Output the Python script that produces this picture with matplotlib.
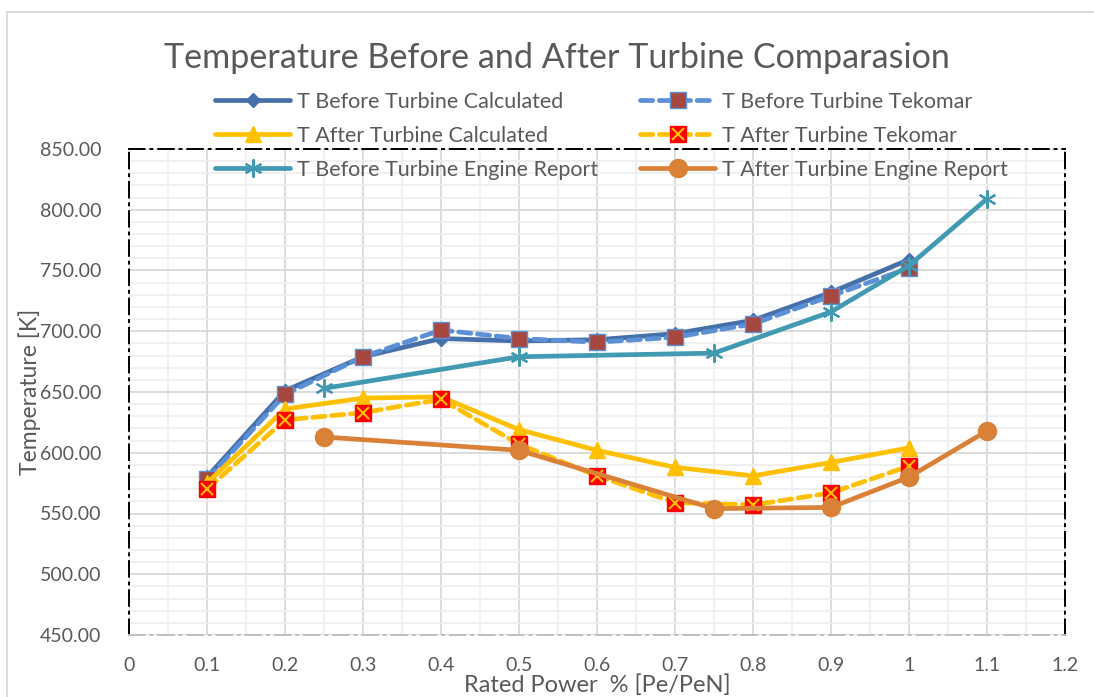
import matplotlib
matplotlib.use("Agg")
import matplotlib.pyplot as plt
from matplotlib.ticker import MultipleLocator, FormatStrFormatter
from matplotlib.lines import Line2D
from matplotlib.legend_handler import HandlerTuple

plt.rcParams['font.family'] = ['Lato', 'DejaVu Sans']

# ---- data ----
power = [0.1, 0.2, 0.3, 0.4, 0.5, 0.6, 0.7, 0.8, 0.9, 1.0]
t_before_calc = [580, 651, 679, 694, 692, 693, 698, 709, 732, 759]
t_before_tek = [578, 648, 679, 701, 694, 691, 695, 706, 729, 752]
t_after_calc = [575, 636, 645, 646, 619, 602, 588, 581, 592, 604]
t_after_tek = [570, 627, 633, 644, 607, 581, 559, 557, 567, 589]
report_power = [0.25, 0.5, 0.75, 0.9, 1.0, 1.1]
t_before_report = [653, 679, 682, 716, 754, 809]
t_after_report = [613, 602, 554, 555, 580, 618]

labels = ["T Before Turbine Calculated", "T Before Turbine Tekomar",
          "T After Turbine Calculated", "T After Turbine Tekomar",
          "T Before Turbine Engine Report", "T After Turbine Engine Report"]
title = "Temperature Before and After Turbine Comparasion"
xlabel = "Rated Power  % [Pe/PeN]"
ylabel = "Temperature [K]"

W, H = 1094, 697
fig = plt.figure(figsize=(W / 100, H / 100), dpi=100)

def fx(px):
    return px / W

def fy(py):
    return 1 - py / H

ax = fig.add_axes([fx(129), fy(635), fx(1065) - fx(129), fy(149) - fy(635)])

c_bcalc = '#4670AA'
c_btek = '#5B8FD6'
c_acalc = '#FFC000'
c_report_b = '#4299B2'
c_report_a = '#DA8138'
lw = 3.4

l1, = ax.plot(power, t_before_calc, color=c_bcalc, lw=lw, marker='D', ms=7,
              mfc=c_bcalc, mec=c_bcalc, solid_capstyle='round', zorder=3)
l2, = ax.plot(power, t_before_tek, color=c_btek, lw=lw, ls=(0, (2.6, 1.4)),
              dash_capstyle='round', marker='s', ms=12, mfc='#A64740',
              mec=c_btek, mew=1.0, zorder=4)
l3, = ax.plot(power, t_after_calc, color=c_acalc, lw=lw, marker='^', ms=11,
              mfc=c_acalc, mec=c_acalc, solid_capstyle='round', zorder=5)
l4, = ax.plot(power, t_after_tek, color=c_acalc, lw=lw, ls=(0, (2.6, 1.4)),
              dash_capstyle='round', marker='s', ms=12, mfc='#FF0000',
              mec='#FF0000', mew=1.0, zorder=6)
l4x, = ax.plot(power, t_after_tek, ls='none', marker='x', ms=9, mec=c_acalc,
               mew=1.5, zorder=6.5)
l5, = ax.plot(report_power, t_before_report, color=c_report_b, lw=lw,
              marker=(6, 2, 0), ms=13, mec=c_report_b, mew=1.6,
              solid_capstyle='round', zorder=7)
l6, = ax.plot(report_power, t_after_report, color=c_report_a, lw=lw,
              marker='o', ms=13, mfc=c_report_a, mec=c_report_a,
              solid_capstyle='round', zorder=8)

ax.set_xlim(0, 1.2)
ax.set_ylim(450, 850)
ax.xaxis.set_major_locator(MultipleLocator(0.1))
ax.xaxis.set_minor_locator(MultipleLocator(0.05))
ax.yaxis.set_major_locator(MultipleLocator(50))
ax.yaxis.set_minor_locator(MultipleLocator(10))
ax.yaxis.set_major_formatter(FormatStrFormatter('%.2f'))
ax.set_xticks([0, 0.1, 0.2, 0.3, 0.4, 0.5, 0.6, 0.7, 0.8, 0.9, 1.0, 1.1, 1.2])
ax.set_xticklabels(['0', '0.1', '0.2', '0.3', '0.4', '0.5', '0.6', '0.7',
                    '0.8', '0.9', '1', '1.1', '1.2'])
ax.grid(which='major', color='#d9d9d9', lw=1.3, zorder=0)
ax.grid(which='minor', color='#efefef', lw=1.3, zorder=0)
ax.set_axisbelow(True)
ax.tick_params(which='both', length=0, labelsize=14, colors='#595959')
ax.tick_params(axis='x', pad=16)
ax.tick_params(axis='y', pad=20)

for side in ['left', 'top', 'right']:
    ax.spines[side].set_color('black')
    ax.spines[side].set_linestyle((0, (8, 3, 1, 3)))
    ax.spines[side].set_linewidth(1.4)
ax.spines['bottom'].set_color('#bfbfbf')
ax.spines['bottom'].set_linestyle((0, (8, 3, 1, 3)))
ax.spines['bottom'].set_linewidth(1.4)

# chart-area border (left and top only visible)
fig.add_artist(Line2D([fx(7), fx(7)], [fy(12), 0], color='#d9d9d9', lw=1.3))
fig.add_artist(Line2D([fx(7), 1], [fy(12), fy(12)], color='#d9d9d9', lw=1.3))

fig.text(fx(557), fy(58), title, ha='center', va='center', fontsize=24.6,
         color='#595959')
fig.text(fx(30), fy(392), ylabel, ha='center', va='center', rotation=90,
         fontsize=16.5, color='#595959')
fig.text(fx(597), fy(685), xlabel, ha='center', va='center', fontsize=17,
         color='#595959')

leg_kw = dict(loc='upper left', frameon=False, fontsize=15.5, borderpad=0,
              borderaxespad=0, handlelength=3.5, handletextpad=0.3,
              labelspacing=0.64, labelcolor='#595959',
              handler_map={tuple: HandlerTuple(ndivide=1)})
fig.legend([l1, l3, l5], [labels[0], labels[2], labels[4]],
           bbox_to_anchor=(fx(215), fy(92)), **leg_kw)
fig.legend([l2, (l4, l4x), l6], [labels[1], labels[3], labels[5]],
           bbox_to_anchor=(fx(640), fy(92)), **leg_kw)

fig.savefig('out.png', dpi=100)
